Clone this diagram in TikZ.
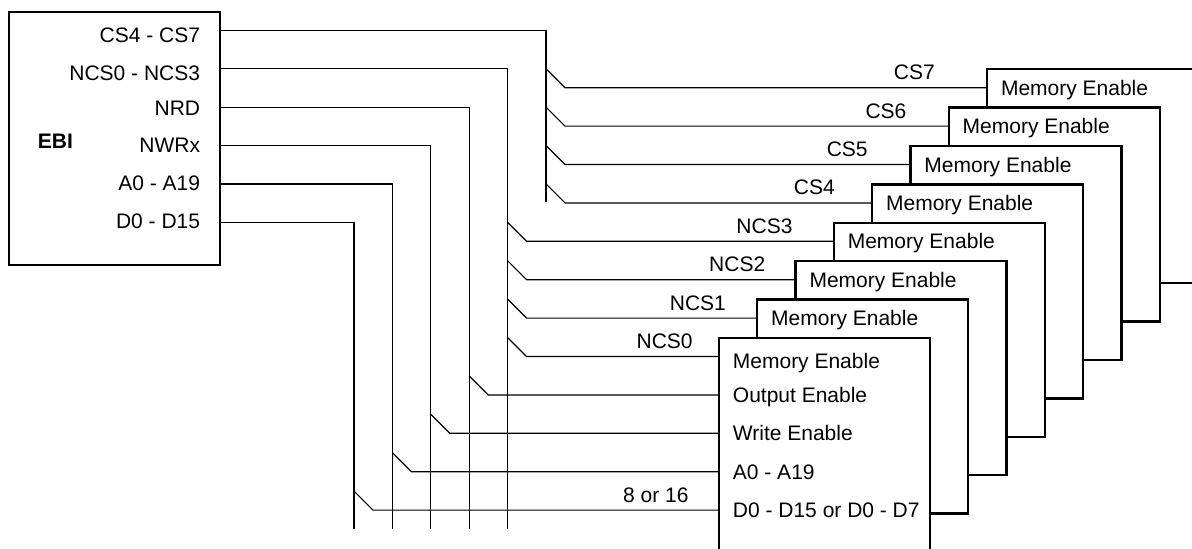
\documentclass[tikz,border=0pt]{standalone}
\usepackage{fontspec}
\setmainfont{Liberation Sans}
\usetikzlibrary{calc}

\begin{document}
\begin{tikzpicture}[x=0.5pt,y=-0.5pt]
	\tikzset{wire/.style={line width=0.6pt},
		chip/.style={draw,line width=1.15pt,fill=white,anchor=north west,inner sep=0pt,outer sep=0pt,minimum width=105.5pt,minimum height=107pt},
		pin/.style={inner sep=0pt,font=\fontsize{10.5}{12}\selectfont}}
	\useasboundingbox (0,0) rectangle (1192,548);
	\clip (0,0) rectangle (1192,548);

	% bus controller
	\node[chip,minimum height=126.5pt] (ebi) at (9,12) {};
	\node[pin,font=\fontsize{10.5}{12}\selectfont\bfseries,anchor=base west] (ebilabel) at (37.5,148) {EBI};
	\foreach \name/\txt/\base [count=\j from 0] in {cs/CS4 - CS7/42,ncs/NCS0 - NCS3/80,rd/NRD/115,wr/NWRx/152,a/A0 - A19/190,d/D0 - D15/228}{
		\node[pin,anchor=base east] (l\name) at (200.5,\base) {\txt};
		\coordinate (p\name) at ($(ebi.north east)+(0,18.4+38.4*\j)$);
	}
	\coordinate (bcs) at (546,202.4);
	\foreach \name [count=\j] in {ncs,rd,wr,a,d}
		\coordinate (b\name) at (546-38.4*\j,529);
	\foreach \name in {cs,ncs,rd,wr,a,d}
		\draw[wire] (p\name) -| (b\name);

	% memory banks, back to front
	\foreach \i in {7,...,0}{
		\node[chip] (mem\i) at (719+38.3*\i,338-38.4*\i) {};
		\coordinate (in\i) at ($(mem\i.north west)+(0,18.5)$);
	}
	\foreach \i in {7,...,1}
		\node[pin,anchor=base west] (me\i) at ($(in\i)+(13.5,7.5)$) {Memory Enable};
	\node[pin,anchor=base west] (me0) at ($(in0)+(13.5,12)$) {Memory Enable};

	% chip selects
	\foreach \i/\bus/\s/\gap in {7/cs/CS7/52,6/cs/CS6/42,5/cs/CS5/42.5,4/cs/CS4/37,3/ncs/NCS3/41,2/ncs/NCS2/30,1/ncs/NCS1/31,0/ncs/NCS0/26}{
		\draw[wire] ($(b\bus |- in\i)+(0,-19)$) -- ++(19,19) -- (in\i);
		\node[pin,anchor=base east] (s\i) at ($(in\i)+(-\gap,-8)$) {\s};
	}

	% shared lines
	\foreach \bus/\txt [count=\m] in {rd/Output Enable,wr/Write Enable,a/A0 - A19,d/D0 - D15 or D0 - D7}{
		\coordinate (r\m) at ($(in0)+(0,38.4*\m)$);
		\draw[wire] ($(b\bus |- r\m)+(0,-19)$) -- ++(19,19) -- (r\m);
		\node[pin,anchor=base west] (t\m) at ($(r\m)+(13.5,7.5)$) {\txt};
	}
	\node[pin,anchor=base east] (width) at ($(r4)+(-30,-8)$) {8 or 16};
\end{tikzpicture}
\end{document}
